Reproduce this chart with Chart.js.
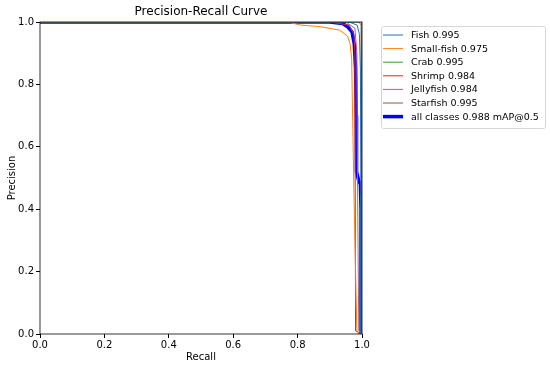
<!DOCTYPE html>
<html>
<head>
<meta charset="utf-8">
<script src="https://cdn.jsdelivr.net/npm/chart.js@4"></script>
<style>
  html, body { margin: 0; padding: 0; background: #fff; }
  #wrap { width: 550px; height: 368px; }
</style>
</head>
<body>
<div id="wrap"><canvas id="pr"></canvas></div>
<script>
// valeurs
const classNames = ['Fish 0.995', 'Small-fish 0.975', 'Crab 0.995', 'Shrimp 0.984', 'Jellyfish 0.984', 'Starfish 0.995', 'all classes 0.988 mAP@0.5'];
const classColors = ['#1f77b4', '#ff7f0e', '#2ca02c', '#d62728', '#9467bd', '#8c564b', '#0000ff'];

const fishRecall = [0, 0.96, 0.985, 0.992, 0.995, 0.997, 0.997];
const fishPrecision = [1, 1, 0.99, 0.96, 0.85, 0.45, 0];
const smallRecall = [0, 0.77, 0.81, 0.87, 0.93, 0.955, 0.963, 0.968, 0.970, 0.975, 0.98, 0.984, 0.99, 1.0];
const smallPrecision = [1, 1, 0.99, 0.985, 0.974, 0.955, 0.93, 0.88, 0.75, 0.45, 0.2, 0.01, 0, 0];
const crabRecall = [0, 0.995, 1.0, 1.0];
const crabPrecision = [1, 1, 1, 0];
const shrimpRecall = [0, 0.9, 0.96, 0.975, 0.978, 0.98, 1.0];
const shrimpPrecision = [1, 1, 0.99, 0.96, 0.9, 0.01, 0];
const jellyRecall = [0, 0.95, 0.978, 0.984, 0.986, 0.99, 1.0];
const jellyPrecision = [1, 1, 0.98, 0.9, 0.5, 0.01, 0];
const starRecall = [0, 0.99, 0.998, 0.998];
const starPrecision = [1, 1, 0.99, 0];
const allRecall = [0, 0.9, 0.94, 0.955, 0.969, 0.976, 0.98, 0.982, 0.983, 0.99, 0.995, 0.997, 0.997];
const allPrecision = [1, 1, 0.995, 0.985, 0.968, 0.93, 0.85, 0.7, 0.52, 0.49, 0.48, 0.4, 0];

const tickValues = [0, 0.2, 0.4, 0.6, 0.8, 1.0];

const curves = [
    [fishRecall, fishPrecision],
    [smallRecall, smallPrecision],
    [crabRecall, crabPrecision],
    [shrimpRecall, shrimpPrecision],
    [jellyRecall, jellyPrecision],
    [starRecall, starPrecision],
    [allRecall, allPrecision]
];

const datasets = curves.map((c, i) => ({
    label: classNames[i],
    data: c[0].map((r, k) => ({ x: r, y: c[1][k] })),
    borderColor: classColors[i],
    backgroundColor: classColors[i],
    borderWidth: i === 6 ? 3.5 : 1,
    pointRadius: 0,
    showLine: true,
    fill: false,
    tension: 0
}));

const FONT = 'DejaVu Sans';

// cadre complet + titre + légende façon matplotlib
const mplDecor = {
    id: 'mplDecor',
    afterDraw(chart) {
        const ctx = chart.ctx;
        const a = chart.chartArea;
        ctx.save();
        ctx.strokeStyle = '#000';
        ctx.lineWidth = 0.8;
        ctx.strokeRect(a.left, a.top, a.right - a.left, a.bottom - a.top);

        ctx.fillStyle = '#000';
        ctx.font = '12px "' + FONT + '"';
        ctx.textAlign = 'center';
        ctx.textBaseline = 'bottom';
        ctx.fillText('Precision-Recall Curve', (a.left + a.right) / 2, a.top - 4);

        // légende
        const bx = 381, by = 26, bw = 164, bh = 102;
        ctx.beginPath();
        ctx.roundRect(bx + 0.5, by + 0.5, bw, bh, 2);
        ctx.fillStyle = 'rgba(255,255,255,0.8)';
        ctx.fill();
        ctx.strokeStyle = '#d6d6d6';
        ctx.lineWidth = 1;
        ctx.stroke();
        ctx.font = '9.5px "' + FONT + '"';
        ctx.textAlign = 'left';
        ctx.textBaseline = 'middle';
        chart.data.datasets.forEach((ds, i) => {
            const y = by + 9 + i * 13.6;
            ctx.beginPath();
            ctx.strokeStyle = ds.borderColor;
            ctx.lineWidth = ds.borderWidth;
            ctx.moveTo(bx + 2, y);
            ctx.lineTo(bx + 22, y);
            ctx.stroke();
            ctx.fillStyle = '#000';
            ctx.fillText(ds.label, bx + 30, y + 0.5);
        });
        ctx.restore();
    }
};

new Chart(document.getElementById('pr'), {
    type: 'scatter',
    data: { datasets: datasets },
    options: {
        responsive: true,
        maintainAspectRatio: false,
        animation: false,
        layout: { padding: { top: 22, right: 188, left: 0, bottom: 0 } },
        plugins: {
            legend: { display: false },
            tooltip: { enabled: false }
        },
        scales: {
            x: {
                type: 'linear',
                min: 0,
                max: 1,
                afterFit: s => { s.height = 34; },
                afterBuildTicks: s => { s.ticks = tickValues.map(v => ({ value: v })); },
                ticks: {
                    color: '#000',
                    font: { family: FONT, size: 10 },
                    padding: 1,
                    maxRotation: 0,
                    callback: v => v.toFixed(1)
                },
                grid: { display: true, drawOnChartArea: false, drawTicks: true, tickLength: 4, color: '#000' },
                border: { display: false },
                title: {
                    display: true,
                    text: 'Recall',
                    color: '#000',
                    font: { family: FONT, size: 10 },
                    padding: { top: 0, bottom: 5 }
                }
            },
            y: {
                type: 'linear',
                min: 0,
                max: 1,
                afterFit: s => { s.width = 40; },
                afterBuildTicks: s => { s.ticks = tickValues.map(v => ({ value: v })); },
                ticks: {
                    color: '#000',
                    font: { family: FONT, size: 10 },
                    padding: 2,
                    callback: v => v.toFixed(1)
                },
                grid: { display: true, drawOnChartArea: false, drawTicks: true, tickLength: 4, color: '#000' },
                border: { display: false },
                title: {
                    display: true,
                    text: 'Precision',
                    color: '#000',
                    font: { family: FONT, size: 10 },
                    padding: { top: 6, bottom: 0 }
                }
            }
        }
    },
    plugins: [mplDecor]
});
</script>
</body>
</html>
